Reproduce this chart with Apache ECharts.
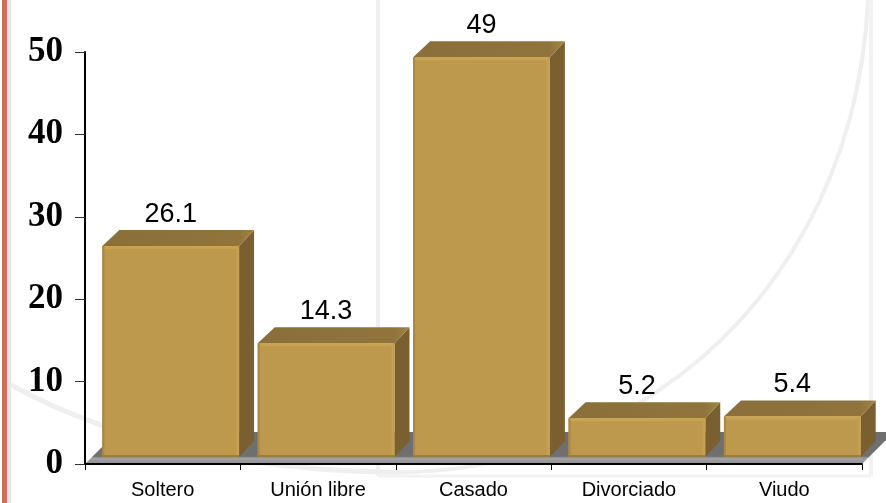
<!DOCTYPE html>
<html>
<head>
<meta charset="utf-8">
<style>html,body{margin:0;padding:0;background:#fff}#c{width:886px;height:503px}</style>
<script src="https://cdn.jsdelivr.net/npm/echarts@6/dist/echarts.min.js"></script>
</head>
<body>
<div id="c"></div>
<script>
const categories = ['Soltero', 'Unión libre', 'Casado', 'Divorciado', 'Viudo'];
const values = [26.1, 14.3, 49, 5.2, 5.4];

const chart = echarts.init(document.getElementById('c'), null, {renderer: 'canvas'});

// 3D extrusion constants (pixels)
const shiftX = 8, shiftY = -7, depthX = 15, depthY = -16, floorDepth = 32;

function poly(points, fill, extra) {
  return Object.assign({type: 'polygon', shape: {points}, style: {fill}, silent: true}, extra || {});
}

function renderFloor(params, api) {
  const halfBand = api.size([1, 0])[0] / 2;
  const c0 = api.coord([0, 0]);
  const c4 = api.coord([categories.length - 1, 0]);
  const x0 = c0[0] - halfBand, x1 = c4[0] + halfBand, y = c0[1];
  const fill = {type: 'linear', x: 0, y: 0, x2: 0, y2: 1, colorStops: [
    {offset: 0, color: '#6e6e6e'}, {offset: 0.76, color: '#707070'},
    {offset: 0.82, color: '#a3a3a3'}, {offset: 1, color: '#8f8f8f'}]};
  return {type: 'group', children: [
    poly([[x0, y], [x1, y], [x1 + floorDepth, y - floorDepth], [x0 + floorDepth, y - floorDepth]], fill)
  ]};
}

function renderBar(params, api) {
  const w = api.size([1, 0])[0] * 0.88;
  const base = api.coord([api.value(0), 0]);
  const top = api.coord([api.value(0), api.value(1)]);
  const l = base[0] - w / 2 + shiftX, r = l + w;
  const b = base[1] + shiftY, t = top[1] + shiftY + 4;
  const dx = depthX, dy = depthY;
  return {type: 'group', children: [
    poly([[r, t], [r + dx, t + dy], [r + dx, b + dy], [r, b]], '#7a6030'),
    poly([[l, t], [l + dx + 2, t + dy], [r + dx, t + dy], [r, t]], {
      type: 'linear', x: 0, y: 0, x2: 1, y2: 0,
      colorStops: [{offset: 0, color: '#8a6f3a'}, {offset: 0.9, color: '#90743c'}, {offset: 1, color: '#a3853f'}]}),
    {type: 'rect', shape: {x: l, y: t, width: w, height: b - t, r: 2}, silent: true,
      style: {fill: '#bd994e'}},
    {type: 'rect', shape: {x: l, y: t, width: w, height: 3}, silent: true, style: {fill: '#c9a350'}},
    {type: 'rect', shape: {x: r - 3, y: t, width: 3, height: b - t}, silent: true, style: {fill: '#c6a052'}},
    {type: 'rect', shape: {x: l, y: t, width: 2, height: b - t}, silent: true, style: {fill: '#a98843'}},
    {type: 'rect', shape: {x: l, y: b - 2, width: w, height: 2}, silent: true, style: {fill: '#9c7e3e'}}
  ]};
}

function renderLabel(params, api) {
  const top = api.coord([api.value(0), api.value(1)]);
  return {type: 'text', silent: true, x: top[0] + 8, y: top[1] - 21,
    style: {text: String(api.value(1)), fill: '#000', font: '27px "Liberation Sans"', align: 'center', verticalAlign: 'bottom'}};
}

const seriesData = categories.map((c, i) => [i, values[i]]);

chart.setOption({
  animation: false,
  backgroundColor: '#fff',
  grid: {left: 85, right: 24, top: 52, bottom: 39, containLabel: false},
  xAxis: {
    type: 'category', data: categories, z: 5,
    axisLine: {show: true, lineStyle: {color: '#000', width: 2}},
    axisTick: {show: true, length: 6, alignWithLabel: false, lineStyle: {color: '#000', width: 1}},
    axisLabel: {color: '#000', fontFamily: 'Liberation Sans', fontSize: 20, margin: 16, interval: 0},
    splitLine: {show: false}
  },
  yAxis: {
    type: 'value', min: 0, max: 50, interval: 10, z: 5,
    axisLine: {show: true, lineStyle: {color: '#000', width: 2}},
    axisTick: {show: true, length: 10, lineStyle: {color: '#333', width: 1}},
    axisLabel: {color: '#000', fontFamily: 'Liberation Serif', fontWeight: 'bold', fontSize: 35, margin: 22},
    splitLine: {show: false}
  },
  graphic: [
    {type: 'rect', z: -10, silent: true, shape: {x: 7, y: 0, width: 4, height: 503}, style: {fill: '#e6e6e6'}},
    {type: 'rect', z: -10, silent: true, shape: {x: 2, y: 0, width: 5, height: 503}, style: {fill: '#cd6f5c'}},
    {type: 'line', z: -10, silent: true, shape: {x1: 378, y1: 0, x2: 378, y2: 476}, style: {stroke: '#efefef', lineWidth: 4}},
    {type: 'line', z: -10, silent: true, shape: {x1: 871, y1: 0, x2: 871, y2: 476}, style: {stroke: '#f2f2f2', lineWidth: 4}},
    {type: 'line', z: -10, silent: true, shape: {x1: 378, y1: 476, x2: 871, y2: 476}, style: {stroke: '#f2f2f2', lineWidth: 3}},
    {type: 'bezierCurve', z: -10, silent: true, shape: {x1: 11, y1: 385, cpx1: 120, cpy1: 445, cpx2: 260, cpy2: 472, x2: 400, y2: 472}, style: {fill: 'none', stroke: '#efefef', lineWidth: 5}},
    {type: 'bezierCurve', z: -10, silent: true, shape: {x1: 400, y1: 472, cpx1: 480, cpy1: 472, cpx2: 570, cpy2: 450, x2: 655, y2: 393}, style: {fill: 'none', stroke: '#efefef', lineWidth: 4}},
    {type: 'bezierCurve', z: -10, silent: true, shape: {x1: 655, y1: 393, cpx1: 780, cpy1: 310, cpx2: 860, cpy2: 170, x2: 868, y2: 0}, style: {fill: 'none', stroke: '#efefef', lineWidth: 4}}
  ],
  series: [
    {type: 'custom', z: 1, renderItem: renderFloor, data: [[0, 0]], encode: {x: 0, y: 1}, silent: true},
    {type: 'custom', z: 2, renderItem: renderBar, data: seriesData, encode: {x: 0, y: 1}, silent: true},
    {type: 'custom', z: 3, renderItem: renderLabel, data: seriesData, encode: {x: 0, y: 1}, silent: true, clip: false}
  ]
});
</script>
</body>
</html>
